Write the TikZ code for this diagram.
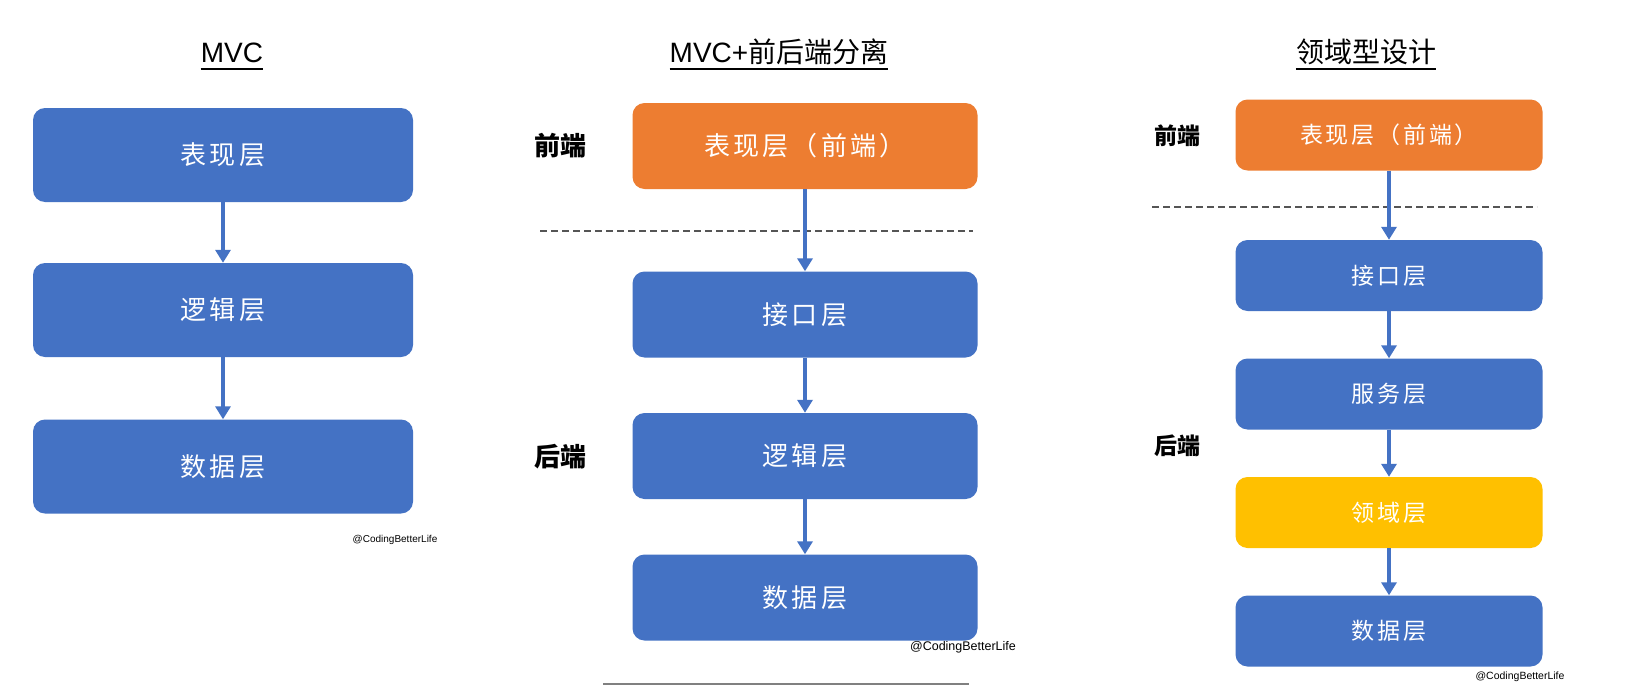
\documentclass[tikz,border=0pt]{standalone}
\usepackage{fontspec}
\setmainfont{Liberation Sans}
\newfontfamily\cjk{Noto Sans CJK SC}
\newfontfamily\cjkls{Noto Sans CJK SC}[LetterSpace=12]
\usetikzlibrary{arrows.meta}
\definecolor{boxblue}{HTML}{4472C4}
\definecolor{boxorange}{HTML}{ED7D31}
\definecolor{boxyellow}{HTML}{FFC000}
\definecolor{sepgray}{HTML}{555555}
\begin{document}
\begin{tikzpicture}[x=1pt,y=-1pt,
  layer/.style={rectangle, rounded corners=12pt, inner sep=0pt, text=white, fill=boxblue},
  bigtxt/.style={font=\cjkls\fontsize{26}{30}\selectfont},
  smalltxt/.style={font=\cjkls\fontsize{23}{26}\selectfont},
  col1/.style={layer, bigtxt, minimum width=380pt, minimum height=94pt},
  col2/.style={layer, bigtxt, minimum width=345pt, minimum height=86pt},
  col3/.style={layer, smalltxt, minimum width=307pt, minimum height=71pt},
  flow/.style={draw=boxblue, line width=3.5pt, -{Triangle[width=15pt,length=13pt]}},
  title/.style={anchor=base, inner sep=0pt, font=\fontsize{28}{32}\selectfont},
  uline/.style={line width=2pt, black},
  side/.style={font=\cjk\bfseries\fontsize{26}{30}\selectfont},
  sepline/.style={draw=sepgray, line width=1.5pt, dash pattern=on 7pt off 4pt},
  wmark/.style={inner sep=0pt}
]
\useasboundingbox[fill=white] (0,0) rectangle (1646,685);

% ---------- titles ----------
\node[title] (t1) at (232,63) {MVC};
\node[title] (t2) at (779,63) {MVC+{\cjk 前后端分离}};
\node[title] (t3) at (1366,63) {{\cjk 领域型设计}};
\draw[uline] ([yshift=-6pt]t1.base west) -- ([yshift=-6pt]t1.base east);
\draw[uline] ([yshift=-6pt]t2.base west) -- ([yshift=-6pt]t2.base east);
\draw[uline] ([yshift=-6pt]t3.base west) -- ([yshift=-6pt]t3.base east);

% ---------- column 1: MVC ----------
\node[col1] (a1) at (223,155) {表现层};
\node[col1] (a2) at (223,310) {逻辑层};
\node[col1] (a3) at (223,466.5) {数据层};
\draw[flow] (a1) -- (a2);
\draw[flow] (a2) -- (a3);
\node[wmark, font=\fontsize{10}{12}\selectfont] (w1) at (395,540) {@CodingBetterLife};

% ---------- column 2: MVC + front/back split ----------
\coordinate (d2l) at (540,231);
\coordinate (d2r) at (973,231);
\draw[sepline] (d2l) -- (d2r);
\node[col2, fill=boxorange] (b1) at (805,146) {表现层（前端）};
\node[col2] (b2) at (805,314.5) {接口层};
\node[col2] (b3) at (805,456) {逻辑层};
\node[col2] (b4) at (805,597.5) {数据层};
\draw[flow] (b1) -- (b2);
\draw[flow] (b2) -- (b3);
\draw[flow] (b3) -- (b4);
\node[side] (f2) at (560,146) {前端};
\node[side] (h2) at (560,457) {后端};
\node[wmark, font=\fontsize{12.5}{14}\selectfont] (w2) at (963,647) {@CodingBetterLife};
\coordinate (g2l) at (603,684);
\coordinate (g2r) at (969,684);
\draw[gray, line width=1.5pt] (g2l) -- (g2r);

% ---------- column 3: domain design ----------
\coordinate (d3l) at (1152,207);
\coordinate (d3r) at (1537,207);
\draw[sepline] (d3l) -- (d3r);
\node[col3, fill=boxorange] (c1) at (1389,135) {表现层（前端）};
\node[col3] (c2) at (1389,275.5) {接口层};
\node[col3] (c3) at (1389,394) {服务层};
\node[col3, fill=boxyellow] (c4) at (1389,512.5) {领域层};
\node[col3] (c5) at (1389,631) {数据层};
\draw[flow] (c1) -- (c2);
\draw[flow] (c2) -- (c3);
\draw[flow] (c3) -- (c4);
\draw[flow] (c4) -- (c5);
\node[side, font=\cjk\bfseries\fontsize{23}{26}\selectfont] (f3) at (1177,136) {前端};
\node[side, font=\cjk\bfseries\fontsize{23}{26}\selectfont] (h3) at (1177,446) {后端};
\node[wmark, font=\fontsize{10.5}{12}\selectfont] (w3) at (1520,677) {@CodingBetterLife};
\end{tikzpicture}
\end{document}
